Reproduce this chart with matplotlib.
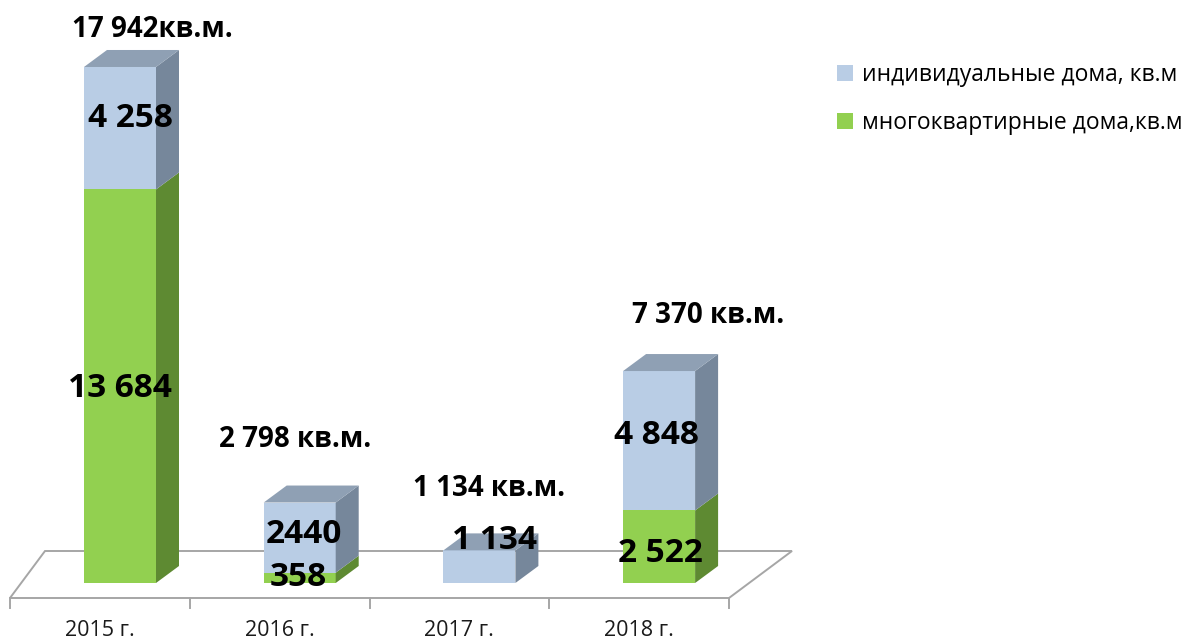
import matplotlib
matplotlib.use('Agg')
import matplotlib.pyplot as plt
from matplotlib.patches import Polygon, Patch

# data
years = ['2015 г.', '2016 г.', '2017 г.', '2018 г.']
multi = [13684, 358, 0, 2522]
indiv = [4258, 2440, 1134, 4848]
multi_lbl = ['13 684', '358', '', '2 522']
indiv_lbl = ['4 258', '2440', '1 134', '4 848']
total_lbl = ['17 942кв.м.', '2 798 кв.м.', '1 134 кв.м.', '7 370 кв.м.']
legend_lbl = ['индивидуальные дома, кв.м', 'многоквартирные дома,кв.м']

# layout (pixel offsets)
total_off = [(32, 37), (-5, 63), (10, 62), (49, 56)]
indiv_off = [(10, 10), (4, 3), (15, 26), (-3, 5)]
multi_off = [(0, -2), (-1, 0), (0, 0), (1, -7)]

plt.rcParams['font.family'] = ['Open Sans', 'DejaVu Sans']

W, H = 1189, 641
fig = plt.figure(figsize=(W / 100, H / 100), dpi=100)
ax = fig.add_axes([0, 0, 1, 1])
px_cat = 179.7
px_val = 0.02876
x0, y0 = 120, 583
ax.set_xlim(-x0 / px_cat, (W - x0) / px_cat)
ax.set_ylim(-(H - y0) / px_val, y0 / px_val)
ax.axis('off')


def cx(p):
    return p / px_cat


def cy(p):
    return p / px_val


blue_f, blue_t, blue_s = '#B9CDE5', '#8FA0B4', '#76879B'
green_f, green_t, green_s = '#92D050', '#77A83F', '#5E8A32'
grid_c = '#A6A6A6'

# floor
fl, fr = cx(10 - x0), cx(729 - x0)
ff, fb = cy(-15), cy(32)
floor = Polygon([(fl, ff), (fr, ff), (fr + cx(63), fb), (fl + cx(35), fb)], closed=True,
                facecolor='white', edgecolor=grid_c, lw=1.4, zorder=1)
ax.add_patch(floor)
n = len(years)
step = (fr - fl) / n
for k in range(n + 1):
    xk = fl + k * step
    ax.plot([xk, xk], [ff, ff - cy(10)], color=grid_c, lw=1.4, zorder=1)
for i, y in enumerate(years):
    ax.text(fl + (i + 0.5) * step, cy(-48), y, ha='center', va='center',
            fontsize=15.5, color='#1a1a1a')

# bars
bw = cx(72)
dx, dy = cx(23), cy(17)


def box(xc, b, t, cf, cs, ct, top):
    xl, xr = xc - bw / 2, xc + bw / 2
    ax.add_patch(Polygon([(xl, b), (xr, b), (xr, t), (xl, t)], closed=True,
                         facecolor=cf, edgecolor='none', zorder=3))
    ax.add_patch(Polygon([(xr, b), (xr + dx, b + dy), (xr + dx, t + dy), (xr, t)],
                         closed=True, facecolor=cs, edgecolor='none', zorder=3))
    if top:
        ax.add_patch(Polygon([(xl, t), (xl + dx, t + dy), (xr + dx, t + dy), (xr, t)],
                             closed=True, facecolor=ct, edgecolor='none', zorder=3))


for i in range(n):
    m, v = multi[i], indiv[i]
    if m > 0:
        box(i, 0, m, green_f, green_s, green_t, v == 0)
    if v > 0:
        box(i, m, m + v, blue_f, blue_s, blue_t, True)
    if multi_lbl[i]:
        ax.annotate(multi_lbl[i], (i, m / 2), xytext=multi_off[i],
                    textcoords='offset pixels', ha='center', va='center',
                    fontsize=24, fontweight='bold', zorder=5)
    ax.annotate(indiv_lbl[i], (i, m + v / 2), xytext=indiv_off[i],
                textcoords='offset pixels', ha='center', va='center',
                fontsize=24, fontweight='bold', zorder=5)
    ax.annotate(total_lbl[i], (i, m + v), xytext=total_off[i], textcoords='offset pixels',
                ha='center', va='center', fontsize=20, fontweight='bold', zorder=5)

handles = [Patch(facecolor=blue_f), Patch(facecolor=green_f)]
fig.legend(handles, legend_lbl, loc='upper left', bbox_to_anchor=(816 / W, 1 - 42 / H),
           frameon=False, fontsize=16.5, handlelength=0.7, handleheight=0.7,
           handletextpad=0.4, labelspacing=1.05)

fig.savefig('out.png', dpi=100)
